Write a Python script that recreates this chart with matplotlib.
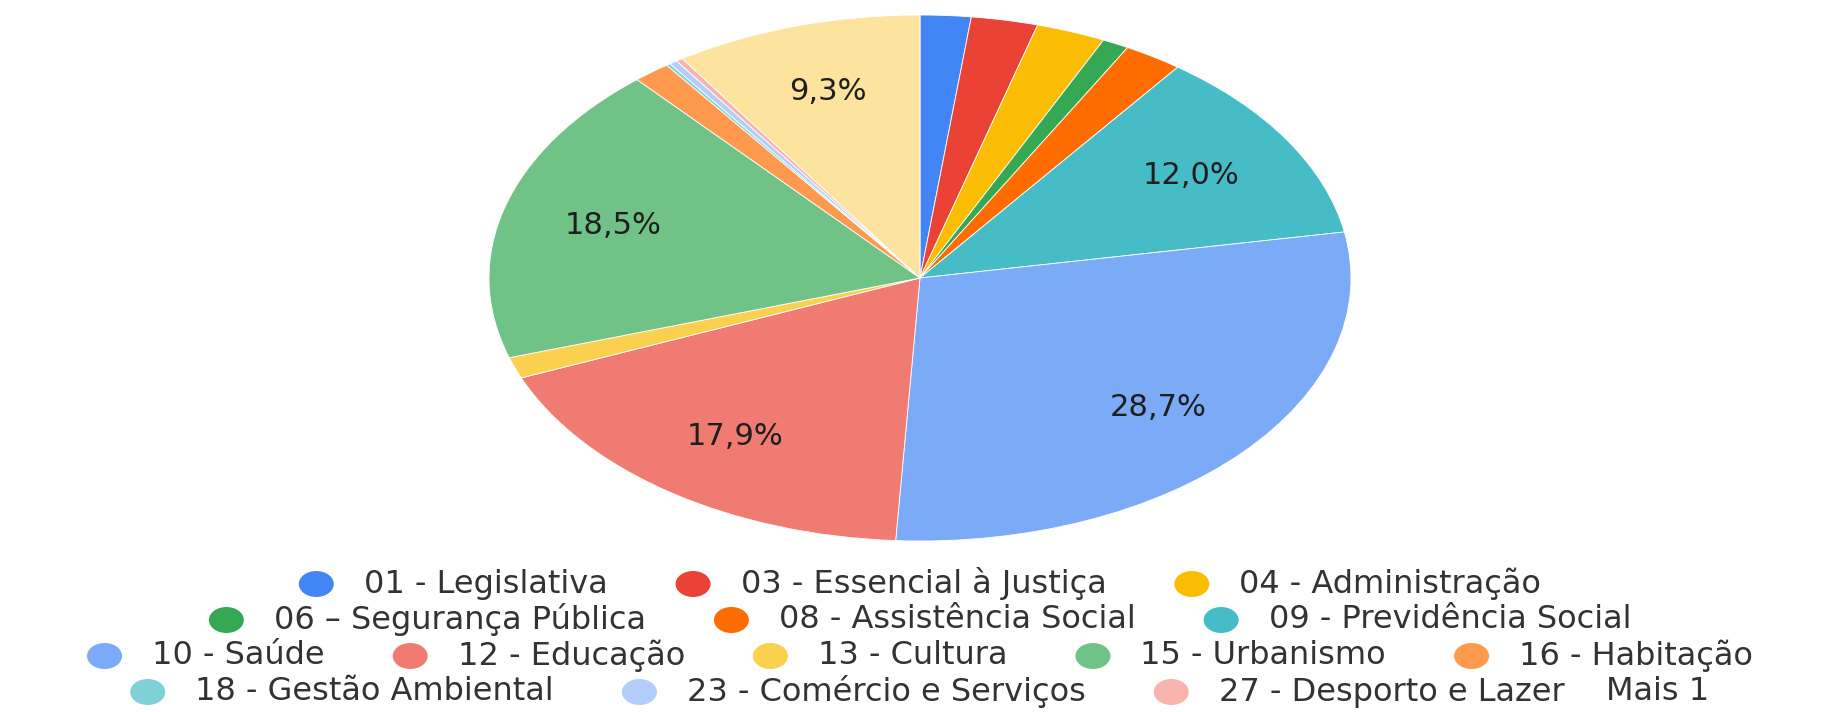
import matplotlib.pyplot as plt
from matplotlib.patches import Ellipse

categorias = ['01 - Legislativa', '03 - Essencial à Justiça', '04 - Administração',
              '06 – Segurança Pública', '08 - Assistência Social', '09 - Previdência Social',
              '10 - Saúde', '12 - Educação', '13 - Cultura', '15 - Urbanismo',
              '16 - Habitação', '18 - Gestão Ambiental', '23 - Comércio e Serviços',
              '27 - Desporto e Lazer', 'Outros']
valores = [1.9, 2.5, 2.6, 1.0, 2.2, 12.0, 28.7, 17.9, 1.3, 18.5, 1.4, 0.15, 0.3, 0.25, 9.3]
cores = ['#4285F4', '#EA4335', '#FBBC04', '#34A853', '#FF6D01', '#46BDC6',
         '#7BAAF7', '#F07B72', '#FCD04F', '#71C287', '#FF994D', '#7ED1D7',
         '#B3CEFB', '#F7B4AE', '#FCE49E']

# linhas da legenda (indices das categorias), a ultima termina com "Mais 1"
linhas_legenda = [[0, 1, 2], [3, 4, 5], [6, 7, 8, 9, 10], [11, 12, 13]]
texto_mais = 'Mais 1'

W, H = 1826, 712
fig = plt.figure(figsize=(W / 100, H / 100), dpi=100)

# pizza esticada na horizontal, como no original
ax = fig.add_axes([489 / W, 1 - 541 / H, 862 / W, 526 / H])


def rotulo(p):
    if p < 5:
        return ''
    return f'{p:.1f}%'.replace('.', ',')


wedges, textos, pcts = ax.pie(valores, colors=cores, startangle=90, counterclock=False,
                              autopct=rotulo, pctdistance=0.74,
                              wedgeprops=dict(edgecolor='white', linewidth=0.6),
                              textprops=dict(fontsize=22, color='#1e1e1e',
                                             family='DejaVu Sans'))
ax.set_aspect('auto')
ax.set_xlim(-1, 1)
ax.set_ylim(-1, 1)
ax.axis('off')

# legenda montada a mao: cada linha centrada
lax = fig.add_axes([0, 0, 1, 1])
lax.set_xlim(0, W)
lax.set_ylim(H, 0)
lax.axis('off')

fig.canvas.draw()
renderer = fig.canvas.get_renderer()

ys = [584, 620, 656, 692]
mw, mh = 35, 26
gap_txt = 30
gap_item = 68
gap_mais = 42
cx = 920
fs = 23

for li, linha in enumerate(linhas_legenda):
    itens = [(cores[i], categorias[i]) for i in linha]
    if li == len(linhas_legenda) - 1:
        itens.append((None, texto_mais))
    y = ys[li]
    larguras = []
    objs = []
    for cor, txt in itens:
        t = lax.text(0, y, txt, fontsize=fs, color='#333333', family='DejaVu Sans',
                     va='center', ha='left')
        larguras.append(t.get_window_extent(renderer).width)
        objs.append(t)
    total = 0
    for k, ((cor, txt), w) in enumerate(zip(itens, larguras)):
        total += (mw + gap_txt if cor else 0) + w
        if k > 0:
            total += gap_item if cor else gap_mais
    x = cx - total / 2
    for k, ((cor, txt), w, t) in enumerate(zip(itens, larguras, objs)):
        if k > 0:
            x += gap_item if cor else gap_mais
        if cor:
            lax.add_patch(Ellipse((x + mw / 2, y), mw, mh, color=cor, lw=0))
            x += mw + gap_txt
        t.set_x(x)
        x += w

fig.savefig('out.png', dpi=100)
